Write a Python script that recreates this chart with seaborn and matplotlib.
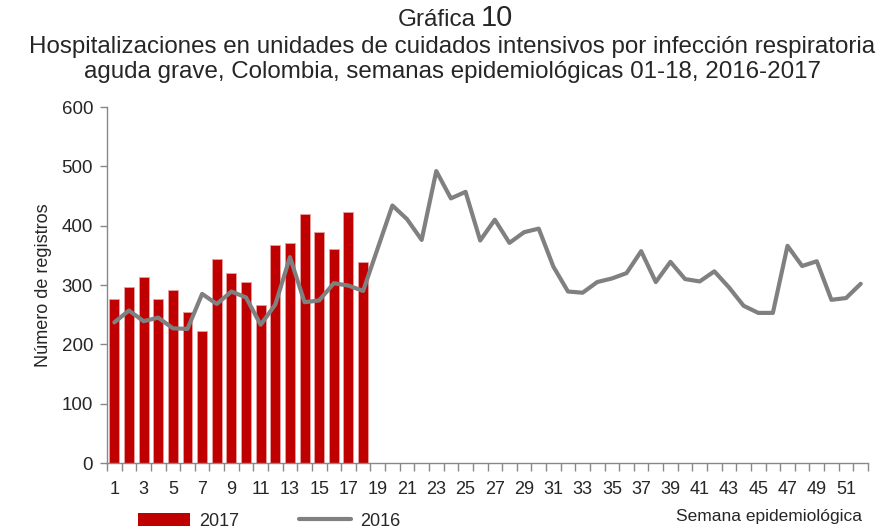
import matplotlib
matplotlib.use("Agg")
import matplotlib.pyplot as plt
import seaborn as sns
import numpy as np
import pandas as pd
from matplotlib.patches import Patch
from matplotlib.lines import Line2D
from matplotlib.ticker import FixedLocator

weeks_2017 = list(range(1, 19))
values_2017 = [277, 297, 314, 277, 291, 254, 223, 344, 320, 305, 267, 368, 370, 420, 390, 361, 423, 338]

weeks_2016 = list(range(1, 53))
values_2016 = [237, 257, 239, 245, 227, 226, 285, 268, 289, 279, 233, 267, 347, 271, 274, 303, 299, 290,
               362, 434, 411, 376, 492, 446, 457, 375, 410, 371, 389, 395, 331, 289, 287, 305, 311, 320,
               357, 305, 339, 310, 306, 323, 296, 265, 253, 253, 366, 332, 340, 275, 278, 302]

xtick_labels = [str(w) for w in range(1, 52, 2)]

sns.set_theme(style="white")
plt.rcParams['font.family'] = ['Liberation Sans', 'DejaVu Sans']

fig = plt.figure(figsize=(8.96, 5.32), dpi=100)
ax = fig.add_axes([107/896, 1-463/532, (868-107)/896, (463-107)/532])

df17 = pd.DataFrame({"week": weeks_2017, "val": values_2017})
df16 = pd.DataFrame({"week": weeks_2016, "val": values_2016})

sns.barplot(data=df17, x="week", y="val", native_scale=True, color="#C00000",
            saturation=1, width=0.68, ax=ax, edgecolor="#E8A0A0", linewidth=0.6)
sns.lineplot(data=df16, x="week", y="val", color="#808080", linewidth=3, ax=ax)

ax.set_xlim(0.5, 52.5)
ax.set_ylim(0, 600)
ax.set_yticks(range(0, 601, 100))
ax.set_xticks(range(1, 52, 2))
ax.set_xticklabels(xtick_labels)
ax.xaxis.set_minor_locator(FixedLocator(np.arange(0.5, 53, 1)))
ax.tick_params(axis='x', which='major', length=0, pad=13, labelsize=13)
ax.tick_params(axis='x', which='minor', length=6, width=1, color="#888888", direction='out', bottom=True)
ax.tick_params(axis='y', which='major', length=5, width=1, color="#888888", direction='out', left=True, labelsize=13.5, pad=5)
for s in ['top', 'right']:
    ax.spines[s].set_visible(False)
for s in ['left', 'bottom']:
    ax.spines[s].set_color("#888888")
    ax.spines[s].set_linewidth(1)
ax.set_xlabel("")
ax.set_ylabel("Número de registros", fontsize=13, labelpad=7)

fig.text(476/896, 1-26/532, "Gráfica", ha='right', va='baseline', fontsize=17.5)
fig.text(481/896, 1-26/532, "10", ha='left', va='baseline', fontsize=21)
fig.text(452/896, 1-47/532, "Hospitalizaciones en unidades de cuidados intensivos por infección respiratoria",
         ha='center', va='center', fontsize=17.4)
fig.text(452/896, 1-72/532, "aguda grave, Colombia, semanas epidemiológicas 01-18, 2016-2017",
         ha='center', va='center', fontsize=17.4)

fig.text(862/896, 1-517/532, "Semana epidemiológica", ha='right', va='center', fontsize=12.5)

handles = [Patch(facecolor="#C00000", edgecolor="none", label="2017"),
           Line2D([0], [0], color="#808080", linewidth=3, label="2016")]
fig.legend(handles=handles, loc='center left', bbox_to_anchor=(138/896, 1-521/532), ncol=2,
           frameon=False, fontsize=13, handlelength=2.9, columnspacing=3.3, handletextpad=0.5,
           borderaxespad=0, borderpad=0)

fig.savefig("out.png", dpi=100)
